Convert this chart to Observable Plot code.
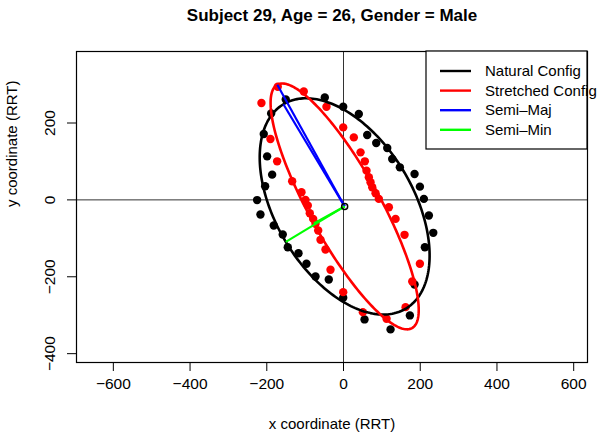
<!DOCTYPE html>
<html><head><meta charset="utf-8">
<script src="https://cdn.jsdelivr.net/npm/d3@7"></script>
<script src="https://cdn.jsdelivr.net/npm/@observablehq/plot@0.6"></script>
<style>body{margin:0;background:#fff} svg{display:block}</style>
</head><body><div id="chart"></div>
<script>
// Natural configuration points (RRT)
const naturalX = [-150.5,-48.8,-0.8,-188.6,-207.9,-199.1,-186,-204.3,-225.2,-216.5,-181.8,-158.4,-145.3,-117.4,-96.5,-73,-38.4,-0.8,39.9,61.8,85.3,114,127,146.9,185.2,199.1,209.5,222.5,234,212.1,185.2,173,122.6,54.8];
const naturalY = [261.3,266.5,242.3,225,171.4,113.2,65.7,35.3,-0.5,-38.2,-66.8,-90.1,-123.1,-138.7,-166.2,-199.2,-207,-254.5,223.4,168.8,148.1,135.1,106.5,84.7,67.5,34.5,2.6,-40.8,-85.7,-123.1,-220,-300.5,-336.9,-310.9];
// Stretched configuration points (RRT)
const stretchedX = [-171.4,-213.9,-103.6,-44.4,-0.8,-190.5,-173,-133.8,-109.6,-99.1,-93.1,-87.9,-79,-73,-66,-60,-47,-33.9,-0.8,26.9,44.4,55.6,60,66,70.4,74.9,83.5,92.1,118.2,135.7,159.1,199.1,179.2,161.8,112.2,50.4];
const stretchedY = [294.3,251.9,282.1,242.3,188.6,158.4,100.3,48.3,19.7,0,-14.8,-34.8,-49.4,-62.3,-79.7,-103.9,-129.1,-181.8,-240,162.6,123.6,100.3,76.1,58.7,45.7,32.7,17.1,2.6,-19.2,-49.4,-90.9,-166.2,-212.2,-279,-309.1,-292];
// Fitted ellipse parameters
const ellipseConfigs = ["Natural Config", "Stretched Config"];
const ellipseCenterX = [3, 3];
const ellipseCenterY = [-17, -17];
const semiMajorLen = [310, 362];
const semiMinorLen = [179, 92];
const majorAngleDeg = [121, 119];
// Axis ticks
const xTicks = [-600, -400, -200, 0, 200, 400, 600];
const yTicks = [-400, -200, 0, 200];
// Legend
const legendLabels = ["Natural Config", "Stretched Config", "Semi\u2013Maj", "Semi\u2013Min"];
const legendColors = ["#000000", "#FF0000", "#0000FF", "#00FF00"];

const FONT = "'Liberation Sans', Arial, Helvetica, sans-serif";
const fmt = d => d < 0 ? "\u2212" + (-d) : String(d);

const natural = naturalX.map((x, i) => ({x, y: naturalY[i]}));
const stretched = stretchedX.map((x, i) => ({x, y: stretchedY[i]}));

function ellipseOutline(k) {
  const th = majorAngleDeg[k] * Math.PI / 180;
  const pts = [];
  for (let i = 0; i <= 240; i++) {
    const t = 2 * Math.PI * i / 240;
    const u = semiMajorLen[k] * Math.cos(t), v = semiMinorLen[k] * Math.sin(t);
    pts.push({x: ellipseCenterX[k] + u * Math.cos(th) - v * Math.sin(th),
              y: ellipseCenterY[k] + u * Math.sin(th) + v * Math.cos(th)});
  }
  return pts;
}
const axisSeg = (k, minor) => {
  const th = (majorAngleDeg[k] + (minor ? 90 : 0)) * Math.PI / 180;
  const L = minor ? semiMinorLen[k] : semiMajorLen[k];
  return {x1: ellipseCenterX[k], y1: ellipseCenterY[k],
          x2: ellipseCenterX[k] + L * Math.cos(th), y2: ellipseCenterY[k] + L * Math.sin(th)};
};
const majors = [0, 1].map(k => axisSeg(k, false));
const minors = [0, 1].map(k => axisSeg(k, true));
const centers = [{x: ellipseCenterX[0], y: ellipseCenterY[0]}];

const FS = 15;
const chart = Plot.plot({
  width: 615, height: 444,
  marginTop: 51, marginBottom: 82, marginLeft: 76, marginRight: 28,
  style: {fontFamily: FONT, fontSize: FS + "px", color: "black", background: "white"},
  x: {domain: [-696, 636], label: null},
  y: {domain: [-423, 386], label: null},
  marks: [
    Plot.ruleY([0], {stroke: "#333", strokeWidth: 1}),
    Plot.ruleX([0], {stroke: "#333", strokeWidth: 1}),
    Plot.dot(natural, {x: "x", y: "y", r: 4.2, fill: "black", stroke: "none"}),
    Plot.dot(stretched, {x: "x", y: "y", r: 4.2, fill: "#FF0000", stroke: "none"}),
    Plot.line(ellipseOutline(0), {x: "x", y: "y", stroke: "black", strokeWidth: 2.6}),
    Plot.line(ellipseOutline(1), {x: "x", y: "y", stroke: "#FF0000", strokeWidth: 2.6}),
    Plot.link(majors, {x1: "x1", y1: "y1", x2: "x2", y2: "y2", stroke: "#0000FF", strokeWidth: 2.2}),
    Plot.link(minors, {x1: "x1", y1: "y1", x2: "x2", y2: "y2", stroke: "#00FF00", strokeWidth: 2.2}),
    Plot.dot(centers, {x: "x", y: "y", r: 3, stroke: "black", strokeWidth: 1.5, fill: "none"}),
    Plot.frame({stroke: "black", strokeWidth: 1.2}),
    Plot.axisX({ticks: xTicks, tickSize: 9, tickPadding: 6, tickFormat: fmt, fontSize: FS + 0.5, label: null}),
    Plot.axisY({ticks: yTicks, tickSize: 9, tickFormat: () => "", label: null}),
    Plot.text(yTicks, {y: d => d, text: fmt, frameAnchor: "left", rotate: -90, lineAnchor: "bottom", textAnchor: "middle", dx: -22, fontSize: FS + 0.5}),
    Plot.text(["x coordinate (RRT)"], {frameAnchor: "bottom", dy: 62, lineAnchor: "middle", fontSize: FS}),
    Plot.text(["y coordinate (RRT)"], {frameAnchor: "left", dx: -64, rotate: -90, lineAnchor: "middle", fontSize: FS}),
    Plot.text(["Subject 29, Age = 26, Gender = Male"], {frameAnchor: "top", dy: -36, lineAnchor: "middle", fontWeight: "bold", fontSize: 17})
  ]
});
document.getElementById("chart").appendChild(chart);

// Legend box (top-right, inside plot)
const svg = d3.select(chart);
const lg = svg.append("g").attr("font-family", FONT).attr("font-size", FS + "px").attr("text-anchor", "start");
lg.append("rect").attr("x", 426).attr("y", 51).attr("width", 161).attr("height", 98)
  .attr("fill", "white").attr("stroke", "black").attr("stroke-width", 1.2);
legendLabels.forEach((lab, i) => {
  const yy = 71 + i * 19.6;
  lg.append("line").attr("x1", 440).attr("x2", 471).attr("y1", yy).attr("y2", yy)
    .attr("stroke", legendColors[i]).attr("stroke-width", 2.4);
  lg.append("text").attr("x", 485).attr("y", yy).attr("dy", "0.35em")
    .attr("text-anchor", "start").attr("fill", "black").text(lab);
});
</script></body></html>
